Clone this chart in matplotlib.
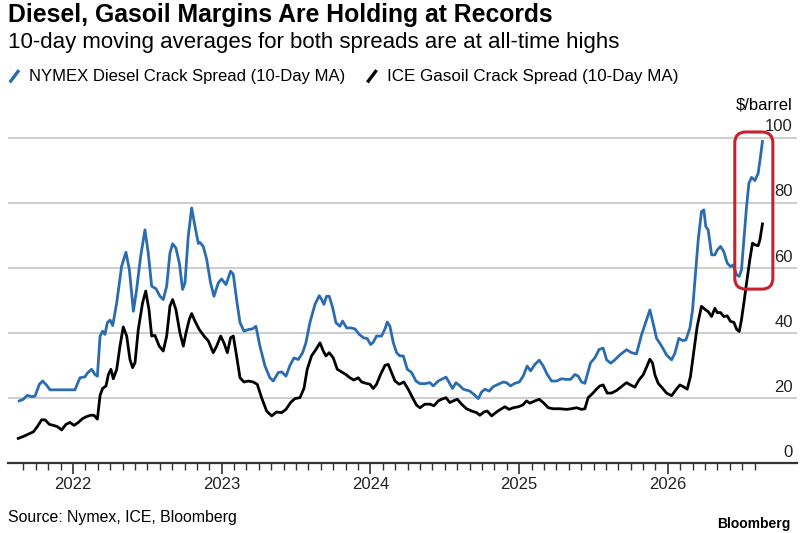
import numpy as np
import matplotlib.pyplot as plt
import matplotlib.transforms as mtransforms
from matplotlib.lines import Line2D
from matplotlib.patches import FancyBboxPatch

plt.rcParams['font.family'] = ['Liberation Sans', 'DejaVu Sans']

# NYMEX diesel crack spread, 10-day MA ($/barrel), x in decimal years
nymex_t = [2021.639, 2021.666, 2021.693, 2021.722, 2021.745, 2021.774, 2021.796, 2021.823, 2021.845,
           2022.013, 2022.047, 2022.081, 2022.096, 2022.125, 2022.148, 2022.164, 2022.182, 2022.199,
           2022.215, 2022.231, 2022.249, 2022.267, 2022.294, 2022.327, 2022.356, 2022.379, 2022.406,
           2022.428, 2022.455, 2022.484, 2022.506, 2022.529, 2022.558, 2022.585, 2022.607, 2022.630,
           2022.652, 2022.670, 2022.692, 2022.715, 2022.737, 2022.753, 2022.775, 2022.798, 2022.820,
           2022.843, 2022.854, 2022.876, 2022.899, 2022.925, 2022.948, 2022.977, 2022.999, 2023.029,
           2023.060, 2023.078, 2023.100, 2023.123, 2023.150, 2023.179, 2023.208, 2023.230, 2023.257,
           2023.291, 2023.324, 2023.347, 2023.380, 2023.403, 2023.432, 2023.459, 2023.486, 2023.515,
           2023.544, 2023.566, 2023.593, 2023.627, 2023.656, 2023.672, 2023.687, 2023.705, 2023.723,
           2023.746, 2023.768, 2023.795, 2023.813, 2023.840, 2023.867, 2023.896, 2023.925, 2023.952,
           2023.979, 2024.001, 2024.019, 2024.041, 2024.075, 2024.098, 2024.113, 2024.131, 2024.154,
           2024.176, 2024.198, 2024.221, 2024.248, 2024.277, 2024.306, 2024.333, 2024.366, 2024.400,
           2024.422, 2024.456, 2024.478, 2024.508, 2024.530, 2024.552, 2024.575, 2024.602, 2024.624,
           2024.669, 2024.703, 2024.725, 2024.747, 2024.770, 2024.799, 2024.826, 2024.859, 2024.893,
           2024.915, 2024.942, 2024.971, 2025.001, 2025.027, 2025.054, 2025.077, 2025.106, 2025.135,
           2025.162, 2025.189, 2025.218, 2025.252, 2025.285, 2025.314, 2025.346, 2025.375, 2025.397,
           2025.420, 2025.442, 2025.458, 2025.480, 2025.509, 2025.538, 2025.565, 2025.588, 2025.615,
           2025.644, 2025.677, 2025.722, 2025.756, 2025.789, 2025.823, 2025.857, 2025.879, 2025.901,
           2025.924, 2025.957, 2025.991, 2026.025, 2026.047, 2026.074, 2026.099, 2026.121, 2026.148,
           2026.166, 2026.182, 2026.204, 2026.226, 2026.242, 2026.255, 2026.271, 2026.294, 2026.316,
           2026.332, 2026.354, 2026.376, 2026.399, 2026.421, 2026.439, 2026.462, 2026.480, 2026.495,
           2026.511, 2026.529, 2026.545, 2026.563, 2026.585, 2026.607, 2026.623, 2026.636]
nymex_v = [19.2, 19.7, 20.9, 20.5, 20.7, 24.3, 25.3, 24.0, 22.6,
           22.6, 26.3, 26.6, 27.7, 28.9, 27.3, 26.8, 39.0, 40.6,
           39.6, 43.2, 44.0, 42.3, 49.3, 60.5, 64.8, 59.5, 46.7,
           53.4, 63.6, 71.7, 64.6, 54.4, 53.6, 51.3, 50.3, 54.4,
           64.6, 67.4, 66.1, 61.5, 53.4, 55.4, 69.7, 78.4, 72.8,
           67.5, 67.8, 66.6, 62.6, 55.4, 51.3, 55.4, 56.6, 54.9,
           59.0, 58.0, 50.3, 43.2, 40.6, 41.1, 41.3, 42.1, 36.0,
           29.9, 26.3, 25.3, 27.9, 28.1, 26.8, 30.1, 32.4, 31.9,
           34.0, 37.0, 43.2, 48.8, 51.5, 50.3, 48.8, 51.3, 51.3,
           47.8, 43.2, 42.1, 43.7, 41.6, 41.6, 41.3, 39.6, 38.6,
           38.3, 36.5, 37.2, 39.1, 39.1, 41.3, 43.4, 42.1, 37.0,
           34.0, 33.0, 33.0, 28.9, 27.9, 25.3, 24.5, 24.5, 24.8,
           23.8, 25.3, 25.8, 26.5, 24.8, 23.0, 24.8, 23.8, 22.8,
           22.2, 20.9, 19.9, 21.9, 22.8, 22.2, 23.6, 24.3, 25.0,
           24.8, 23.8, 24.6, 25.0, 26.8, 29.9, 28.4, 30.4, 31.7,
           29.9, 27.3, 25.3, 25.3, 26.0, 25.8, 25.8, 27.3, 26.8,
           25.0, 24.6, 27.3, 30.9, 32.4, 35.0, 35.4, 31.8, 30.8,
           31.8, 33.3, 34.9, 34.0, 33.6, 39.5, 44.1, 47.1, 43.0,
           38.4, 36.1, 33.3, 31.8, 33.8, 38.4, 37.7, 37.9, 41.5,
           47.1, 56.3, 68.6, 77.3, 77.8, 72.7, 71.7, 64.0, 64.0,
           65.5, 66.6, 65.0, 61.5, 60.4, 60.9, 57.9, 57.4, 59.4,
           68.6, 78.8, 86.0, 87.8, 86.8, 89.0, 94.2, 98.8]

# ICE gasoil crack spread, 10-day MA ($/barrel)
ice_t = [2021.632, 2021.666, 2021.700, 2021.733, 2021.760, 2021.789, 2021.812, 2021.841, 2021.868,
         2021.895, 2021.924, 2021.953, 2021.980, 2022.007, 2022.036, 2022.065, 2022.092, 2022.119,
         2022.141, 2022.164, 2022.182, 2022.199, 2022.222, 2022.238, 2022.255, 2022.271, 2022.294,
         2022.316, 2022.338, 2022.361, 2022.383, 2022.401, 2022.417, 2022.439, 2022.468, 2022.489,
         2022.511, 2022.529, 2022.551, 2022.580, 2022.607, 2022.630, 2022.652, 2022.670, 2022.692,
         2022.719, 2022.742, 2022.760, 2022.782, 2022.798, 2022.820, 2022.849, 2022.881, 2022.910,
         2022.943, 2022.966, 2022.993, 2023.015, 2023.038, 2023.060, 2023.078, 2023.100, 2023.123,
         2023.150, 2023.179, 2023.212, 2023.239, 2023.268, 2023.302, 2023.336, 2023.369, 2023.403,
         2023.432, 2023.463, 2023.492, 2023.526, 2023.553, 2023.575, 2023.604, 2023.634, 2023.661,
         2023.683, 2023.701, 2023.723, 2023.750, 2023.777, 2023.806, 2023.835, 2023.862, 2023.889,
         2023.918, 2023.941, 2023.970, 2023.997, 2024.019, 2024.041, 2024.068, 2024.098, 2024.120,
         2024.142, 2024.165, 2024.194, 2024.225, 2024.254, 2024.283, 2024.310, 2024.333, 2024.366,
         2024.400, 2024.427, 2024.456, 2024.478, 2024.508, 2024.534, 2024.557, 2024.584, 2024.613,
         2024.646, 2024.680, 2024.714, 2024.736, 2024.763, 2024.785, 2024.815, 2024.848, 2024.875,
         2024.904, 2024.933, 2024.960, 2024.994, 2025.023, 2025.050, 2025.072, 2025.106, 2025.135,
         2025.162, 2025.196, 2025.229, 2025.274, 2025.319, 2025.352, 2025.386, 2025.420, 2025.442,
         2025.464, 2025.494, 2025.520, 2025.543, 2025.565, 2025.592, 2025.621, 2025.655, 2025.689,
         2025.722, 2025.749, 2025.778, 2025.807, 2025.834, 2025.857, 2025.879, 2025.897, 2025.913,
         2025.935, 2025.964, 2025.991, 2026.025, 2026.054, 2026.081, 2026.103, 2026.130, 2026.152,
         2026.175, 2026.197, 2026.226, 2026.249, 2026.271, 2026.294, 2026.316, 2026.332, 2026.354,
         2026.376, 2026.399, 2026.421, 2026.444, 2026.462, 2026.480, 2026.495, 2026.511, 2026.529,
         2026.551, 2026.569, 2026.585, 2026.607, 2026.619, 2026.636]
ice_v = [7.7, 8.3, 9.0, 9.7, 11.3, 13.4, 13.4, 12.0, 11.7,
         11.3, 10.3, 12.0, 12.6, 11.7, 12.6, 13.8, 14.4, 14.8,
         14.8, 13.6, 20.9, 23.0, 23.8, 27.3, 28.9, 26.0, 28.9,
         36.0, 41.9, 39.1, 31.9, 29.4, 30.9, 41.1, 49.3, 52.9,
         47.2, 39.1, 39.3, 36.0, 34.5, 39.1, 48.3, 50.3, 47.2,
         40.1, 36.0, 40.1, 44.2, 46.0, 43.7, 41.1, 39.1, 37.6,
         34.0, 36.0, 39.1, 37.0, 34.0, 38.6, 39.1, 33.0, 26.3,
         25.0, 25.3, 25.0, 24.3, 20.2, 16.1, 14.6, 15.8, 15.6,
         16.6, 18.7, 19.9, 20.2, 23.0, 28.9, 33.0, 35.0, 37.0,
         34.5, 33.0, 34.0, 32.4, 28.9, 28.1, 27.3, 26.3, 25.6,
         26.3, 25.0, 24.6, 24.3, 23.0, 24.3, 27.3, 30.1, 30.4,
         27.9, 25.3, 24.3, 25.0, 22.8, 20.2, 17.9, 17.1, 18.2,
         18.2, 17.7, 19.2, 19.7, 20.2, 18.7, 19.2, 19.7, 18.2,
         16.8, 16.1, 15.6, 14.8, 15.8, 16.1, 14.6, 15.8, 16.6,
         17.4, 16.6, 17.1, 17.4, 17.9, 19.2, 18.5, 19.2, 19.7,
         18.7, 17.1, 16.8, 16.8, 16.6, 16.8, 17.1, 16.6, 16.8,
         20.2, 21.5, 22.8, 23.8, 24.1, 21.6, 21.6, 22.4, 23.6,
         24.8, 24.1, 23.4, 25.7, 27.2, 29.6, 32.0, 30.8, 27.2,
         24.6, 23.1, 21.6, 20.8, 22.6, 24.1, 23.6, 22.8, 26.7,
         34.4, 42.0, 48.2, 47.3, 46.6, 45.1, 47.6, 46.3, 46.3,
         45.1, 45.3, 43.6, 43.3, 41.2, 40.5, 44.1, 49.2, 55.3,
         62.5, 67.6, 67.1, 66.8, 68.6, 73.5]

years = [2022, 2023, 2024, 2025, 2026]
y_ticks = [0, 20, 40, 60, 80, 100]

# highlight box around the latest surge (years, $/barrel)
box_x0, box_x1 = 2026.450, 2026.706
box_y0, box_y1 = 53.5, 101.7

blue = '#2b6cb0'
fig = plt.figure(figsize=(8, 5.33), dpi=100)
ax = fig.add_axes([0.01, 0.1304, 0.986, 0.6238])

ax.plot(nymex_t, nymex_v, color=blue, lw=2.0, solid_joinstyle='round', zorder=3)
ax.plot(ice_t, ice_v, color='black', lw=2.0, solid_joinstyle='round', zorder=3)

ax.set_xlim(2021.563, 2026.867)
ax.set_ylim(0, 102)

# gridlines + labels sitting on top of them at right
ax.set_yticks(y_ticks)
ax.tick_params(axis='y', length=0, labelleft=False)
ax.yaxis.grid(True, color='#c9c9c9', lw=1.3)
ax.set_axisbelow(True)
trans = mtransforms.blended_transform_factory(ax.transAxes, ax.transData)
for v in y_ticks:
    ax.text(0.995, v + 1.0, str(v), transform=trans, ha='right', va='bottom',
            fontsize=12, color='#222222')

# year ticks and month ticks
months = np.arange(2021 + 8 / 12, 2026 + 7.5 / 12, 1 / 12)
ax.set_xticks(years)
ax.set_xticklabels([str(y) for y in years], fontsize=12, color='#222222')
ax.set_xticks(months, minor=True)
ax.tick_params(axis='x', which='major', length=8, width=1.2, color='#333333', pad=2)
ax.tick_params(axis='x', which='minor', length=5, width=1.0, color='#333333')

for s in ['top', 'left', 'right']:
    ax.spines[s].set_visible(False)
ax.spines['bottom'].set_color('#333333')
ax.spines['bottom'].set_linewidth(1.6)

# red rounded highlight box
fig.canvas.draw()
renderer = fig.canvas.get_renderer()
px_per_x = ax.transData.transform((1, 0))[0] - ax.transData.transform((0, 0))[0]
px_per_y = ax.transData.transform((0, 1))[1] - ax.transData.transform((0, 0))[1]
r = 11 / px_per_x
box = FancyBboxPatch((box_x0, box_y0), box_x1 - box_x0, box_y1 - box_y0,
                     boxstyle='round,pad=0,rounding_size=%f' % r,
                     mutation_aspect=px_per_x / px_per_y,
                     fill=False, edgecolor='#c8202c', lw=2.2, zorder=4, clip_on=False)
ax.add_patch(box)


def fit_text(x, y, s, width_px, **kw):
    # size the text so it spans about the same width as in the reference
    t = fig.text(x, y, s, **kw)
    w = t.get_window_extent(renderer).width
    t.set_fontsize(t.get_fontsize() * width_px / w)
    return t


# titles
fit_text(0.01, 0.972, 'Diesel, Gasoil Margins Are Holding at Records', 547, fontsize=17,
         fontweight='bold', va='center', ha='left', color='black')
fit_text(0.01, 0.921, '10-day moving averages for both spreads are at all-time highs', 612,
         fontsize=15, va='center', ha='left', color='black')

# legend
fig.add_artist(Line2D([0.0135, 0.0225], [0.848, 0.866], color=blue, lw=2.4))
fit_text(0.036, 0.856, 'NYMEX Diesel Crack Spread (10-Day MA)', 316, fontsize=12,
         va='center', ha='left')
fig.add_artist(Line2D([0.4605, 0.4695], [0.848, 0.866], color='black', lw=2.4))
fit_text(0.484, 0.856, 'ICE Gasoil Crack Spread (10-Day MA)', 293, fontsize=12,
         va='center', ha='left')

fig.text(0.991, 0.803, '$/barrel', fontsize=12, ha='right', va='center')
fit_text(0.01, 0.030, 'Source: Nymex, ICE, Bloomberg', 230, fontsize=12, ha='left', va='center')
fig.text(0.988, 0.004, 'Bloomberg', fontsize=10, fontweight='bold', ha='right', va='bottom')

fig.savefig('out.png', dpi=100)
